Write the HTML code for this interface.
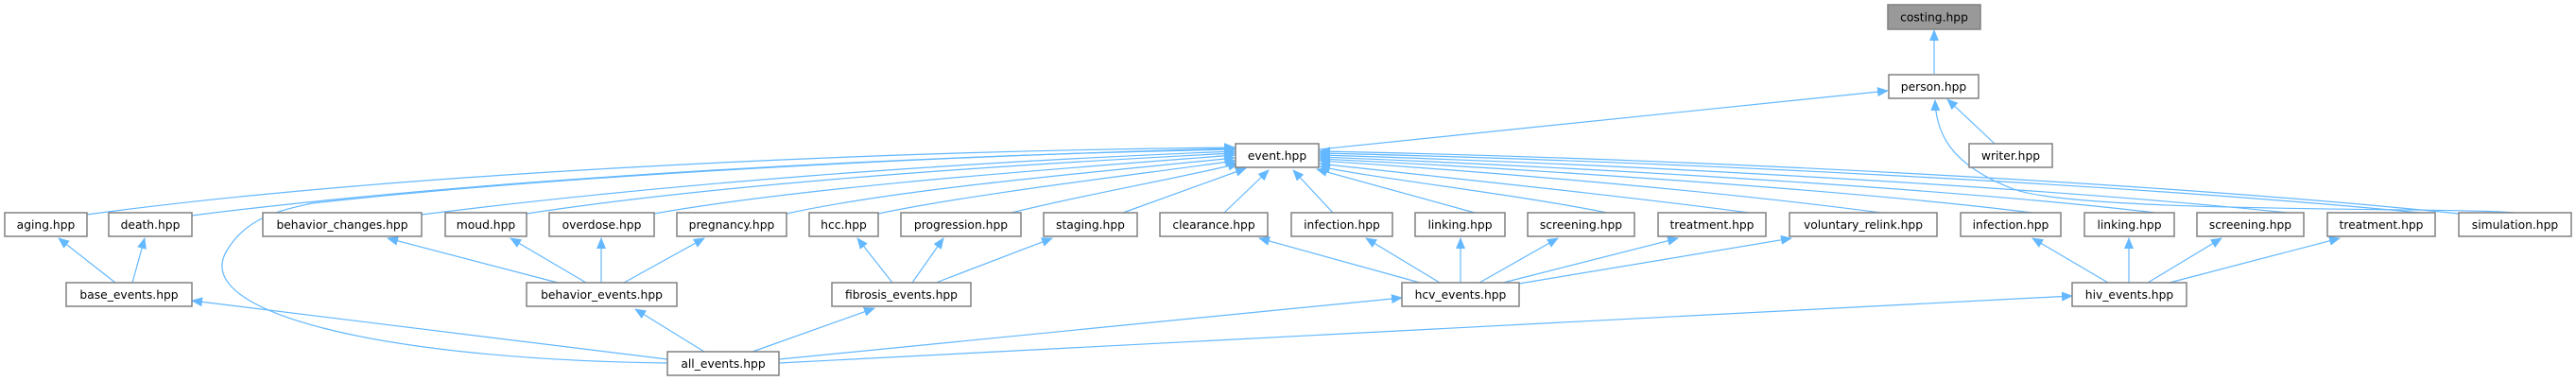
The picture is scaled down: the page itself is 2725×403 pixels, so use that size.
<!DOCTYPE html>
<html><head><meta charset="utf-8"><style>
html,body{margin:0;padding:0;background:#fff;}
svg{display:block;}
text{font-family:"DejaVu Sans","Liberation Sans",sans-serif;font-size:12.3px;fill:#000;text-anchor:middle;}
.n{fill:#fff;stroke:#808080;stroke-width:1.5;}
.e{fill:none;stroke:#63b8ff;stroke-width:1.2;}
</style></head><body>
<svg width="2725" height="403" viewBox="0 0 2725 403" xmlns="http://www.w3.org/2000/svg">
<defs>
<marker id="a" markerUnits="userSpaceOnUse" markerWidth="12" markerHeight="10" refX="11" refY="5" orient="auto">
<path d="M0,0 L12,5 L0,10 Z" fill="#63b8ff"/>
</marker>
</defs>
<g class="e" marker-end="url(#a)">
<path d="M2046,78 L2046,32"/>
<path d="M1395,158 L1997,96"/>
<path d="M2110,152 L2060,105"/>
<path d="M2660,225 C2600,219 2200,226 2130,200 C2062,174 2048,140 2047,106"/>
<!-- to event left -->
<path d="M92,227 C400,185 900,160 1306,156"/>
<path d="M203,228 C500,190 950,165 1306,158"/>
<path d="M446,227 C700,195 1000,172 1306,160"/>
<path d="M557,226 C760,195 1050,175 1306,162"/>
<path d="M692,226 C850,198 1100,180 1306,164"/>
<path d="M832,226 C950,200 1150,183 1306,167"/>
<path d="M929,226 C1030,205 1200,185 1307,170"/>
<path d="M1070,225 C1150,205 1250,188 1310,173"/>
<path d="M1188,225 L1318,178"/>
<path d="M1295,225 L1342,180"/>
<path d="M1410,225 L1368,180"/>
<path d="M1560,225 L1393,179"/>
<path d="M1700,225 C1600,205 1450,188 1396,176"/>
<path d="M1850,225 C1700,205 1500,185 1396,173"/>
<path d="M1990,225 C1800,200 1550,180 1396,170"/>
<path d="M2150,225 C1950,200 1600,178 1396,168"/>
<path d="M2280,225 C2050,198 1650,176 1396,166"/>
<path d="M2420,225 C2150,197 1700,173 1396,164"/>
<path d="M2560,225 C2250,195 1750,170 1396,162"/>
<path d="M2601,226 C2300,195 1800,168 1396,160"/>
<path d="M706,384 C400,380 200,330 240,265 C262,228 300,222 330,215 C600,185 1000,165 1306,157"/>
<!-- level 4 -->
<path d="M122,299 L62,252"/>
<path d="M140,299 L153,252"/>
<path d="M590,299 L410,252"/>
<path d="M620,299 L540,252"/>
<path d="M636,299 L636,252"/>
<path d="M660,299 L745,252"/>
<path d="M944,299 L907,252"/>
<path d="M965,299 L998,252"/>
<path d="M990,299 L1113,252"/>
<path d="M1502,299 L1332,252"/>
<path d="M1523,299 L1445,252"/>
<path d="M1545,299 L1545,252"/>
<path d="M1565,299 L1648,252"/>
<path d="M1590,299 L1775,252"/>
<path d="M1607,300 L1895,252"/>
<path d="M2230,299 L2150,252"/>
<path d="M2252,299 L2252,252"/>
<path d="M2272,299 L2350,252"/>
<path d="M2295,299 L2475,252"/>
<!-- all_events -->
<path d="M706,380 L203,318"/>
<path d="M745,372 L672,327"/>
<path d="M796,372 L925,326"/>
<path d="M824,380 L1483,315"/>
<path d="M824,384 L2192,313"/>
</g>
<g>
<rect x="1997" y="5" width="98" height="26" fill="#999" stroke="#808080" stroke-width="1.5"/>
<text x="2046" y="22.5">costing.hpp</text>
<rect class="n" x="1998" y="79" width="95" height="25"/><text x="2045.5" y="96">person.hpp</text>
<rect class="n" x="1307" y="152" width="88" height="25"/><text x="1351" y="169">event.hpp</text>
<rect class="n" x="2083" y="152" width="88" height="25"/><text x="2127" y="169">writer.hpp</text>

<rect class="n" x="5" y="225" width="87" height="25"/><text x="48.5" y="242">aging.hpp</text>
<rect class="n" x="115" y="225" width="88" height="25"/><text x="159" y="242">death.hpp</text>
<rect class="n" x="278" y="225" width="168" height="25"/><text x="362" y="242">behavior_changes.hpp</text>
<rect class="n" x="471" y="225" width="86" height="25"/><text x="514" y="242">moud.hpp</text>
<rect class="n" x="581" y="225" width="111" height="25"/><text x="636.5" y="242">overdose.hpp</text>
<rect class="n" x="716" y="225" width="116" height="25"/><text x="774" y="242">pregnancy.hpp</text>
<rect class="n" x="856" y="225" width="73" height="25"/><text x="892.5" y="242">hcc.hpp</text>
<rect class="n" x="953" y="225" width="127" height="25"/><text x="1016.5" y="242">progression.hpp</text>
<rect class="n" x="1104" y="225" width="99" height="25"/><text x="1153.5" y="242">staging.hpp</text>
<rect class="n" x="1227" y="225" width="114" height="25"/><text x="1284" y="242">clearance.hpp</text>
<rect class="n" x="1366" y="225" width="107" height="25"/><text x="1419.5" y="242">infection.hpp</text>
<rect class="n" x="1497" y="225" width="95" height="25"/><text x="1544.5" y="242">linking.hpp</text>
<rect class="n" x="1616" y="225" width="113" height="25"/><text x="1672.5" y="242">screening.hpp</text>
<rect class="n" x="1754" y="225" width="114" height="25"/><text x="1811" y="242">treatment.hpp</text>
<rect class="n" x="1893" y="225" width="156" height="25"/><text x="1971" y="242">voluntary_relink.hpp</text>
<rect class="n" x="2074" y="225" width="106" height="25"/><text x="2127" y="242">infection.hpp</text>
<rect class="n" x="2205" y="225" width="95" height="25"/><text x="2252.5" y="242">linking.hpp</text>
<rect class="n" x="2324" y="225" width="113" height="25"/><text x="2380.5" y="242">screening.hpp</text>
<rect class="n" x="2462" y="225" width="114" height="25"/><text x="2519" y="242">treatment.hpp</text>
<rect class="n" x="2601" y="225" width="119" height="25"/><text x="2660.5" y="242">simulation.hpp</text>

<rect class="n" x="70" y="299" width="133" height="25"/><text x="136.5" y="316">base_events.hpp</text>
<rect class="n" x="557" y="299" width="159" height="25"/><text x="636.5" y="316">behavior_events.hpp</text>
<rect class="n" x="880" y="299" width="147" height="25"/><text x="953.5" y="316">fibrosis_events.hpp</text>
<rect class="n" x="1483" y="299" width="124" height="25"/><text x="1545" y="316">hcv_events.hpp</text>
<rect class="n" x="2192" y="299" width="121" height="25"/><text x="2252.5" y="316">hiv_events.hpp</text>
<rect class="n" x="706" y="372" width="118" height="25"/><text x="765" y="389">all_events.hpp</text>
</g>
</svg>
</body></html>
